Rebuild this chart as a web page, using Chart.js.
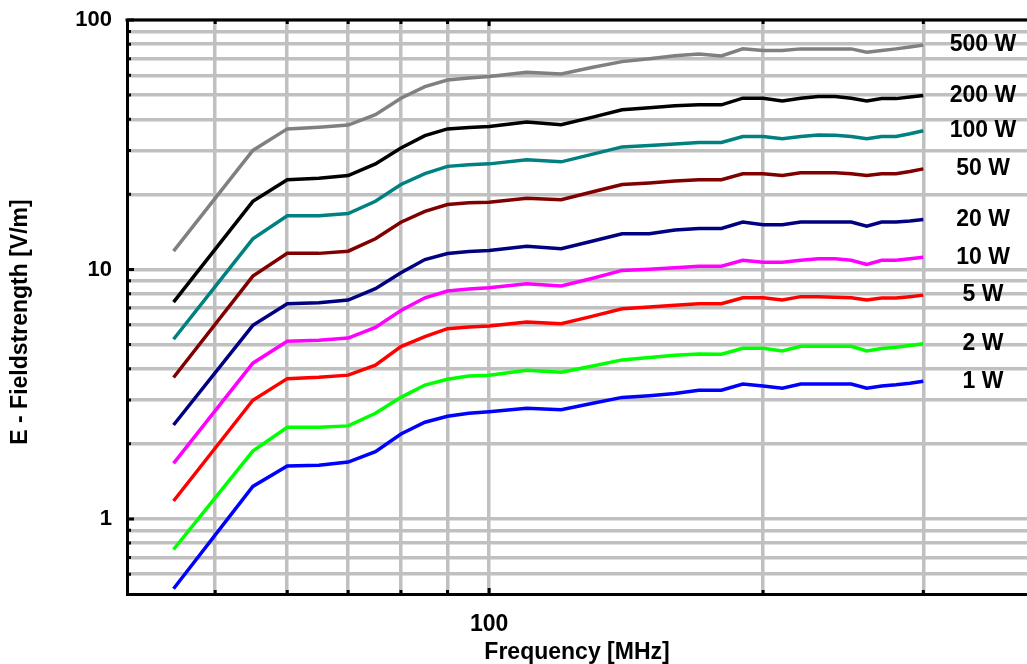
<!DOCTYPE html>
<html>
<head>
<meta charset="utf-8">
<script src="https://cdn.jsdelivr.net/npm/chart.js@4.4.1/dist/chart.umd.min.js"></script>
<style>
  html, body { margin: 0; padding: 0; background: #fff; }
  #wrap { width: 1027px; height: 664px; position: relative; }
</style>
</head>
<body>
<div id="wrap"><canvas id="myChart"></canvas></div>
<script>
// frequencies in MHz
const freqs = [45, 55, 60, 65, 70, 75, 80, 85, 90, 95, 100, 110, 120, 130, 140, 150,
  160, 170, 180, 190, 200, 210, 220, 230, 240, 250, 260, 270, 280, 290, 300];

// field strength in V/m, one array per output power
const e1W = [0.525, 1.35, 1.63, 1.64, 1.69, 1.86, 2.19, 2.44, 2.58, 2.65, 2.69, 2.78, 2.74, 2.91, 3.07, 3.12,
  3.18, 3.28, 3.28, 3.47, 3.41, 3.34, 3.47, 3.47, 3.47, 3.47, 3.34, 3.41, 3.45, 3.50, 3.56];
const e2W = [0.754, 1.87, 2.33, 2.33, 2.36, 2.65, 3.07, 3.44, 3.63, 3.74, 3.77, 3.94, 3.87, 4.10, 4.34, 4.44,
  4.53, 4.58, 4.57, 4.83, 4.83, 4.71, 4.92, 4.92, 4.92, 4.92, 4.71, 4.82, 4.88, 4.96, 5.04];
const e5W = [1.18, 2.99, 3.65, 3.70, 3.77, 4.13, 4.91, 5.38, 5.79, 5.88, 5.93, 6.15, 6.06, 6.50, 6.96, 7.07,
  7.18, 7.29, 7.29, 7.70, 7.70, 7.54, 7.78, 7.78, 7.74, 7.70, 7.54, 7.68, 7.68, 7.78, 7.89];
const e10W = [1.67, 4.21, 5.15, 5.20, 5.31, 5.86, 6.85, 7.70, 8.19, 8.35, 8.45, 8.77, 8.58, 9.22, 9.91, 10.03,
  10.16, 10.31, 10.31, 10.89, 10.69, 10.69, 10.89, 11.03, 11.03, 10.89, 10.47, 10.89, 10.89, 11.04, 11.2];
const e20W = [2.38, 5.97, 7.29, 7.35, 7.54, 8.37, 9.70, 10.96, 11.59, 11.80, 11.9, 12.4, 12.1, 13.0, 13.9, 13.9,
  14.4, 14.6, 14.6, 15.5, 15.1, 15.1, 15.5, 15.5, 15.5, 15.5, 14.9, 15.5, 15.5, 15.65, 15.85];
const e50W = [3.69, 9.40, 11.6, 11.6, 11.84, 13.27, 15.46, 17.1, 18.2, 18.5, 18.6, 19.3, 19.05, 20.5, 21.9, 22.2,
  22.6, 22.9, 22.9, 24.2, 24.2, 23.8, 24.4, 24.4, 24.4, 24.2, 23.8, 24.2, 24.2, 24.7, 25.3];
const e100W = [5.25, 13.27, 16.4, 16.4, 16.75, 18.76, 21.9, 24.2, 25.9, 26.3, 26.5, 27.5, 27.0, 29.0, 31.0, 31.4,
  31.8, 32.3, 32.3, 34.1, 34.1, 33.4, 34.1, 34.6, 34.5, 34.1, 33.4, 34.1, 34.1, 35.0, 36.0];
const e200W = [7.40, 18.76, 22.9, 23.2, 23.8, 26.5, 30.7, 34.4, 36.6, 37.1, 37.4, 39.0, 38.0, 40.8, 43.7, 44.5,
  45.3, 45.7, 45.7, 48.6, 48.6, 47.4, 48.6, 49.4, 49.4, 48.6, 47.4, 48.4, 48.4, 49.1, 49.8];
const e500W = [11.84, 30.0, 36.6, 37.2, 37.9, 41.7, 48.6, 54.1, 57.5, 58.5, 59.3, 61.8, 60.8, 64.7, 68.1, 70.0,
  71.9, 73.1, 71.8, 76.6, 75.4, 75.4, 76.6, 76.6, 76.6, 76.6, 74.2, 75.4, 76.6, 78.0, 79.4];

const seriesNames = ['1 W', '2 W', '5 W', '10 W', '20 W', '50 W', '100 W', '200 W', '500 W'];
const seriesValues = [e1W, e2W, e5W, e10W, e20W, e50W, e100W, e200W, e500W];
const seriesColors = ['#0000ff', '#00ff00', '#ff0000', '#ff00ff', '#000080',
  '#800000', '#008080', '#000000', '#808080'];

// grid lines and labelled ticks
const xGridValues = [50, 60, 70, 80, 90, 100, 200, 300];
const xLabelValues = [100];
const yGridValues = [0.6, 0.7, 0.8, 0.9, 1, 2, 3, 4, 5, 6, 7, 8, 9, 10, 20, 30, 40, 50, 60, 70, 80, 90, 100];
const yLabelValues = [1, 10, 100];

const FONT = '"Liberation Sans", Arial, Helvetica, sans-serif';

// axis frame extras: top border, small inner tick marks, y title, series names
const framePlugin = {
  id: 'frame',
  afterDatasetsDraw(chart) {
    const { ctx, chartArea, scales } = chart;
    const { left, right, top, bottom } = chartArea;
    ctx.save();
    ctx.strokeStyle = '#000';
    ctx.lineWidth = 3;
    ctx.beginPath();
    ctx.moveTo(left - 1.5, top);
    ctx.lineTo(right, top);
    ctx.stroke();

    ctx.beginPath();
    yGridValues.forEach(v => {
      const py = scales.y.getPixelForValue(v);
      const len = yLabelValues.includes(v) ? 7 : 4;
      ctx.moveTo(left, py);
      ctx.lineTo(left + len, py);
    });
    xGridValues.forEach(v => {
      const px = scales.x.getPixelForValue(v);
      const len = xLabelValues.includes(v) ? 6 : 4;
      ctx.moveTo(px, top);
      ctx.lineTo(px, top + len);
      ctx.moveTo(px, bottom);
      ctx.lineTo(px, bottom - len);
    });
    ctx.stroke();

    // power labels next to the line ends
    ctx.fillStyle = '#000';
    ctx.font = 'bold 23px ' + FONT;
    ctx.textAlign = 'center';
    ctx.textBaseline = 'middle';
    chart.data.datasets.forEach(ds => {
      const last = ds.data[ds.data.length - 1];
      ctx.fillText(ds.label, right - 44, scales.y.getPixelForValue(last.y));
    });

    // y axis title
    ctx.translate(21, 322);
    ctx.rotate(-Math.PI / 2);
    ctx.fillText('E - Fieldstrength [V/m]', 0, 0);
    ctx.restore();
  }
};

const datasets = seriesNames.map((name, i) => ({
  label: name,
  data: freqs.map((f, j) => ({ x: f, y: seriesValues[i][j] })),
  borderColor: seriesColors[i],
  backgroundColor: seriesColors[i],
  borderWidth: 3.5,
  pointRadius: 0,
  tension: 0,
  fill: false
}));

const ctx = document.getElementById('myChart').getContext('2d');
new Chart(ctx, {
  type: 'line',
  data: { datasets },
  plugins: [framePlugin],
  options: {
    responsive: true,
    maintainAspectRatio: false,
    animation: false,
    layout: { padding: { top: 20, right: 0, left: 0, bottom: 0 } },
    plugins: {
      legend: { display: false },
      tooltip: { enabled: false }
    },
    scales: {
      x: {
        type: 'logarithmic',
        min: 40,
        max: 390,
        afterBuildTicks: s => { s.ticks = xGridValues.map(v => ({ value: v })); },
        afterFit: s => { s.height = 70; s.paddingLeft = 0; s.paddingRight = 0; },
        grid: { color: '#c0c0c0', lineWidth: 3.5, drawTicks: false },
        border: { color: '#000', width: 3 },
        ticks: {
          autoSkip: false,
          maxRotation: 0,
          padding: 17,
          color: '#000',
          font: { family: FONT, size: 23, weight: 'bold' },
          callback: v => xLabelValues.includes(v) ? String(v) : ''
        },
        title: {
          display: true,
          text: 'Frequency [MHz]',
          color: '#000',
          padding: 0,
          font: { family: FONT, size: 23, weight: 'bold', lineHeight: 1 }
        }
      },
      y: {
        type: 'logarithmic',
        min: 0.5,
        max: 100,
        afterBuildTicks: s => { s.ticks = yGridValues.map(v => ({ value: v })); },
        afterFit: s => { s.width = 127; s.paddingTop = 0; s.paddingBottom = 0; },
        grid: { color: '#c0c0c0', lineWidth: 3.5, drawTicks: false },
        border: { color: '#000', width: 3 },
        ticks: {
          autoSkip: false,
          padding: 15,
          color: '#000',
          font: { family: FONT, size: 22, weight: 'bold' },
          callback: v => yLabelValues.includes(v) ? String(v) : ''
        }
      }
    }
  }
});
</script>
</body>
</html>
